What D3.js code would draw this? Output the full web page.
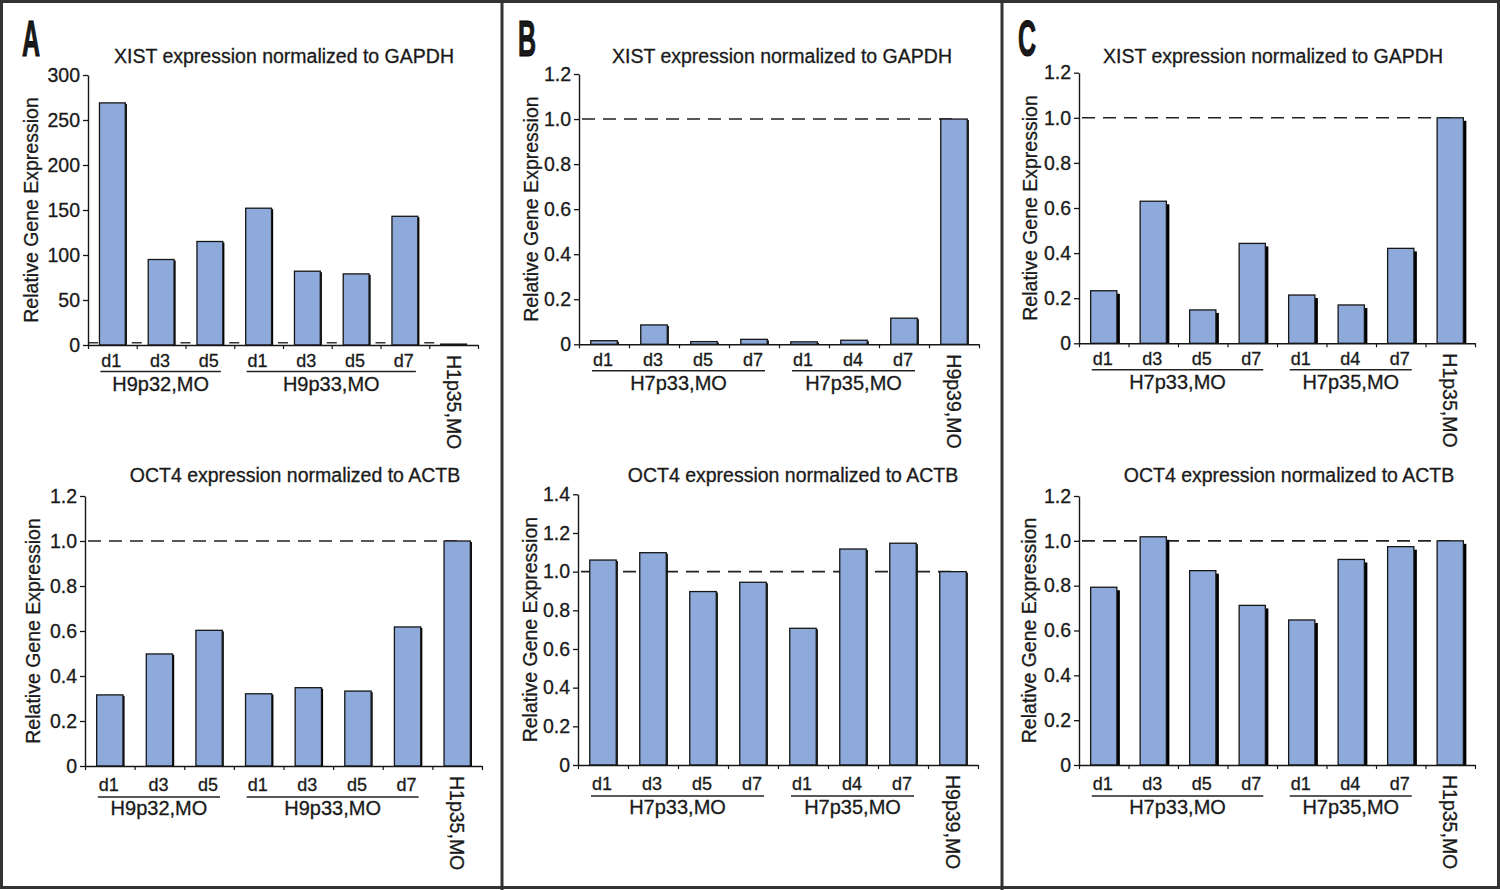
<!DOCTYPE html>
<html><head><meta charset="utf-8">
<script src="https://cdn.jsdelivr.net/npm/d3@7"></script>
<style>
html,body{margin:0;padding:0;background:#fff;}
svg{display:block;}
text{font-family:"Liberation Sans",Arial,Helvetica,sans-serif;fill:#1a1a1a;stroke:#1a1a1a;stroke-width:0.3px;}
</style></head>
<body>
<svg id="chart" width="1500" height="890"></svg>
<script>
// ---------- DATA ----------
const catsA = ["d1","d3","d5","d1","d3","d5","d7","H1p35,MO"];
const groupsA = [{name:"H9p32,MO", from:0, to:2},{name:"H9p33,MO", from:3, to:6}];
const catsB = ["d1","d3","d5","d7","d1","d4","d7","H9p39,MO"];
const catsC = ["d1","d3","d5","d7","d1","d4","d7","H1p35,MO"];
const groupsBC = [{name:"H7p33,MO", from:0, to:3},{name:"H7p35,MO", from:4, to:6}];

const xistA = [269, 95, 115, 152, 82, 79, 143, 1];
const xistA_minor = [2.5, 2.5, 2.5, 2.5, 2.5, 2.5, 2.5, 2.5];
const oct4A = [0.316, 0.498, 0.603, 0.321, 0.348, 0.333, 0.618, 1.0];
const xistB = [0.016, 0.086, 0.012, 0.022, 0.011, 0.018, 0.116, 1.0];
const oct4B = [1.060, 1.098, 0.897, 0.945, 0.707, 1.117, 1.147, 1.0];
const xistC = [0.233, 0.630, 0.148, 0.443, 0.214, 0.170, 0.421, 1.0];
const oct4C = [0.793, 1.018, 0.867, 0.712, 0.647, 0.917, 0.974, 1.0];

const ticksXistA = [0, 50, 100, 150, 200, 250, 300];
const ticks12 = [0, 0.2, 0.4, 0.6, 0.8, 1.0, 1.2];
const ticks14 = [0, 0.2, 0.4, 0.6, 0.8, 1.0, 1.2, 1.4];

const titleXist = "XIST expression normalized to GAPDH";
const titleOct4 = "OCT4 expression normalized to ACTB";
const yLabel = "Relative Gene Expression";
const panelLetters = ["A","B","C"];

// ---------- LAYOUT ----------
const svg = d3.select("#chart");
svg.append("rect").attr("width",1500).attr("height",890).attr("fill","#fff");

const BAR_FILL = "#8eaadb";
const INK = "#161616";

function drawPanel(cfg){
  const n = cfg.cats.length;
  const g = svg.append("g");
  const y = d3.scaleLinear().domain([0, cfg.max]).range([cfg.y0, cfg.yTop]);
  const xb = d3.scaleLinear().domain([0, n]).range([cfg.x0, cfg.x1]);
  const xband = d3.scaleBand().domain(d3.range(n)).range([cfg.x0, cfg.x1])
      .paddingInner(0.47).paddingOuter(0.235);
  const cx = i => xband(i) + xband.bandwidth()/2;

  if (cfg.refLine) {
    g.append("line")
      .attr("x1", cfg.x0 + 3).attr("x2", cx(n-1))
      .attr("y1", y(1)).attr("y2", y(1))
      .attr("stroke", "#222").attr("stroke-width", 1.6)
      .attr("stroke-dasharray", "13,8");
  }

  if (cfg.minor) {
    g.selectAll(".minor").data(cfg.minor).enter().append("line")
      .attr("x1", (d,i) => xb(i) + (i===0 ? 1 : -5))
      .attr("x2", (d,i) => xb(i) + (i===0 ? 10 : 5))
      .attr("y1", d => y(d)).attr("y2", d => y(d))
      .attr("stroke", "#333").attr("stroke-width", 1.5);
  }

  g.selectAll(".sh").data(cfg.values).enter().append("rect")
    .attr("x", (d,i) => xband(i) + xband.bandwidth())
    .attr("y", d => Math.min(y(d) + cfg.shadowDrop, cfg.y0))
    .attr("width", cfg.shadow)
    .attr("height", d => Math.max(0, cfg.y0 - Math.min(y(d) + cfg.shadowDrop, cfg.y0)))
    .attr("fill", "#000");

  g.selectAll(".bar").data(cfg.values).enter().append("rect")
    .attr("x", (d,i) => xband(i))
    .attr("y", d => y(d))
    .attr("width", xband.bandwidth())
    .attr("height", d => cfg.y0 - y(d))
    .attr("fill", BAR_FILL)
    .attr("stroke", INK).attr("stroke-width", 1.3);

  const fmt = cfg.max > 10 ? d3.format("d") : (v => v === 0 ? "0" : d3.format(".1f")(v));
  const ya = g.append("g").attr("transform", `translate(${cfg.x0},0)`)
    .call(d3.axisLeft(y).tickValues(cfg.ticks).tickFormat(fmt).tickSize(5).tickSizeOuter(0).tickPadding(3));
  ya.select(".domain").attr("stroke", INK).attr("stroke-width", 1.4);
  ya.selectAll(".tick line").attr("stroke", INK).attr("stroke-width", 1.3);
  ya.selectAll("text").attr("font-size", 19.5).attr("font-family", null).attr("fill", "#1a1a1a");

  const xa = g.append("g").attr("transform", `translate(0,${cfg.y0})`)
    .call(d3.axisBottom(xb).tickValues(d3.range(0, n+1)).tickFormat("").tickSize(4).tickSizeOuter(0));
  xa.select(".domain").attr("stroke", INK).attr("stroke-width", 1.4);
  xa.selectAll(".tick line").attr("stroke", INK).attr("stroke-width", 1.2);

  g.selectAll(".cat").data(cfg.cats.slice(0, n-1)).enter().append("text")
    .attr("x", (d,i) => cx(i) - 1)
    .attr("y", cfg.y0 + cfg.catDy)
    .attr("text-anchor", "middle").attr("font-size", 18)
    .text(d => d);

  cfg.groups.forEach(gr => {
    const a = cx(gr.from) - 12, b = cx(gr.to) + 11;
    g.append("line").attr("x1", a).attr("x2", b)
      .attr("y1", cfg.y0 + cfg.ulDy).attr("y2", cfg.y0 + cfg.ulDy)
      .attr("stroke", "#222").attr("stroke-width", 1.5);
    g.append("text").attr("x", (a+b)/2).attr("y", cfg.y0 + cfg.grpDy)
      .attr("text-anchor", "middle").attr("font-size", 20)
      .text(gr.name);
  });

  g.append("text")
    .attr("transform", `translate(${cx(n-1)},${cfg.y0 + 10}) rotate(90)`)
    .attr("dy", "0.36em").attr("font-size", 19.5)
    .text(cfg.cats[n-1]);

  g.append("text").attr("x", cfg.titleX).attr("y", cfg.titleY)
    .attr("text-anchor", "middle").attr("font-size", 19.5)
    .text(cfg.title);

  g.append("text")
    .attr("transform", `translate(${cfg.labelX},${(cfg.yTop + cfg.y0)/2}) rotate(-90)`)
    .attr("text-anchor", "middle").attr("font-size", 19.5)
    .text(yLabel);
}

const topRow = {catDy:22, ulDy:26.5, grpDy:46, titleY:63};
const botRow = {catDy:25, ulDy:31, grpDy:48.5, titleY:482};

drawPanel(Object.assign({}, topRow, {x0:88, x1:478, yTop:75, y0:345, max:300, ticks:ticksXistA,
  values:xistA, minor:xistA_minor, cats:catsA, groups:groupsA, title:titleXist, titleX:284, labelX:37.5,
  refLine:false, shadow:1.6, shadowDrop:1}));
drawPanel(Object.assign({}, botRow, {x0:85, x1:482, yTop:496, y0:766, max:1.2, ticks:ticks12,
  values:oct4A, cats:catsA, groups:groupsA, title:titleOct4, titleX:295, labelX:39.5,
  refLine:true, shadow:1.6, shadowDrop:1}));
drawPanel(Object.assign({}, topRow, {x0:579, x1:979, yTop:74, y0:344.3, max:1.2, ticks:ticks12,
  values:xistB, cats:catsB, groups:groupsBC, title:titleXist, titleX:782, labelX:537.5,
  refLine:true, shadow:1.6, shadowDrop:1}));
drawPanel(Object.assign({}, botRow, {x0:578, x1:978, yTop:494.3, y0:765, max:1.4, ticks:ticks14,
  values:oct4B, cats:catsB, groups:groupsBC, title:titleOct4, titleX:793, labelX:537,
  refLine:true, shadow:1.6, shadowDrop:1}));
drawPanel(Object.assign({}, topRow, {x0:1079, x1:1475, yTop:72.7, y0:343.3, max:1.2, ticks:ticks12,
  values:xistC, cats:catsC, groups:groupsBC, title:titleXist, titleX:1273, labelX:1037,
  refLine:true, shadow:3, shadowDrop:3}));
drawPanel(Object.assign({}, botRow, {x0:1079, x1:1475, yTop:496, y0:765, max:1.2, ticks:ticks12,
  values:oct4C, cats:catsC, groups:groupsBC, title:titleOct4, titleX:1289, labelX:1036,
  refLine:true, shadow:3, shadowDrop:3}));

const letterX = [22, 518, 1018];
panelLetters.forEach((L, i) => {
  svg.append("text")
    .attr("transform", `translate(${letterX[i]},56) scale(0.5,1)`)
    .attr("font-size", 50).attr("font-weight", "bold").attr("fill", "#000")
    .style("stroke", "#000").style("stroke-width", "1px")
    .text(L);
});

svg.append("rect").attr("x", 1.5).attr("y", 1.5).attr("width", 1497).attr("height", 886)
  .attr("fill", "none").attr("stroke", "#333").attr("stroke-width", 3);
[502, 1002].forEach(x => svg.append("line").attr("x1", x).attr("x2", x).attr("y1", 0).attr("y2", 890)
  .attr("stroke", "#333").attr("stroke-width", 3));
</script>
</body></html>
